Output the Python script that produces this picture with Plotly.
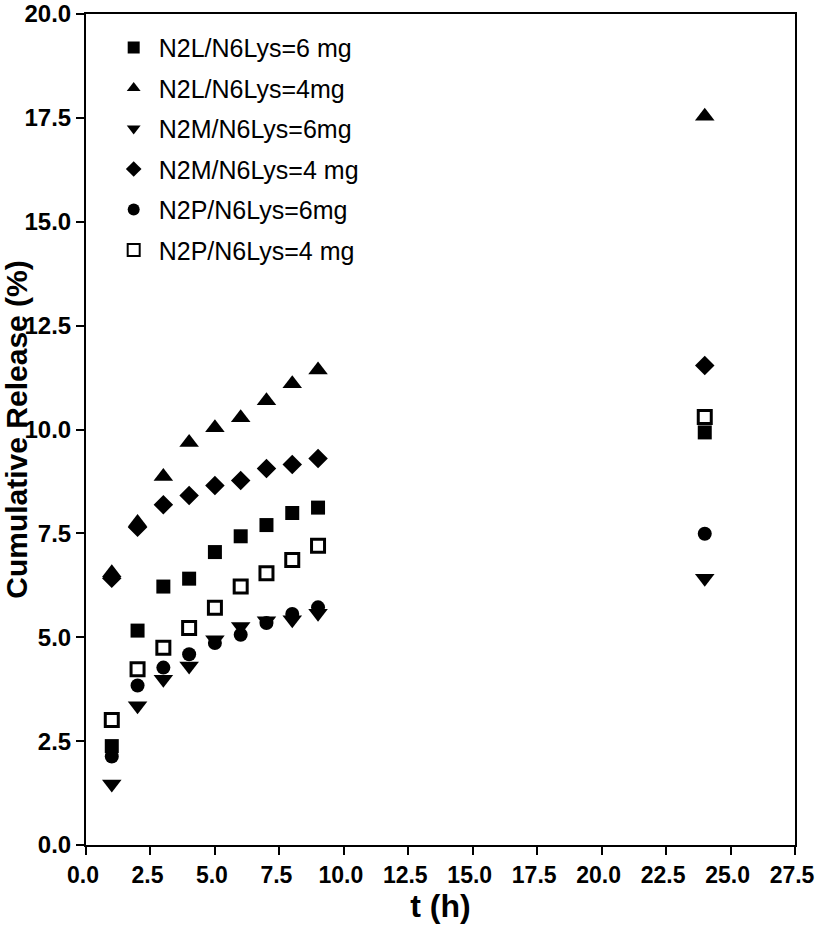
import plotly.graph_objects as go

t_early = [1, 2, 3, 4, 5, 6, 7, 8, 9, 24]

names = ["N2L/N6Lys=6 mg", "N2L/N6Lys=4mg", "N2M/N6Lys=6mg",
         "N2M/N6Lys=4 mg", "N2P/N6Lys=6mg", "N2P/N6Lys=4 mg"]

n2l_6 = [2.38, 5.16, 6.22, 6.41, 7.05, 7.43, 7.70, 7.99, 8.12, 9.93]
n2l_4 = [6.55, 7.76, 8.87, 9.69, 10.04, 10.28, 10.69, 11.10, 11.43, 17.54]
n2m_6 = [1.47, 3.35, 3.99, 4.31, 4.94, 5.26, 5.40, 5.42, 5.58, 6.42]
n2m_4 = [6.42, 7.65, 8.19, 8.41, 8.65, 8.77, 9.06, 9.16, 9.30, 11.54]
n2p_6 = [2.13, 3.84, 4.27, 4.59, 4.86, 5.06, 5.34, 5.56, 5.72, 7.49]
n2p_4 = [3.01, 4.23, 4.75, 5.22, 5.71, 6.22, 6.54, 6.86, 7.20, 10.30]

x_ticks = [0, 2.5, 5, 7.5, 10, 12.5, 15, 17.5, 20, 22.5, 25, 27.5]
y_ticks = [0, 2.5, 5, 7.5, 10, 12.5, 15, 17.5, 20]

series = [n2l_6, n2l_4, n2m_6, n2m_4, n2p_6, n2p_4]
symbols = ["square", "triangle-up", "triangle-down", "diamond", "circle", "square-open"]
sizes = [14, 17, 17, 15, 14, 13]

fig = go.Figure()
for i, (nm, ys, sym, sz) in enumerate(zip(names, series, symbols, sizes)):
    marker = dict(symbol=sym, size=sz, color="black")
    if sym == "square-open":
        marker["line"] = dict(width=3, color="black")
    fig.add_trace(go.Scatter(x=t_early, y=ys, mode="markers", name=nm,
                             marker=marker, legendgroup=f"g{i}"))

fam = "Liberation Sans, Arial"
narrow = "Liberation Sans Narrow, Arial Narrow, Liberation Sans, Arial"
tick_font = dict(family=narrow, size=24, color="black", weight="bold")
xtick_font = dict(family=narrow, size=23, color="black", weight="bold")

fig.update_layout(
    width=816, height=928,
    paper_bgcolor="white", plot_bgcolor="white",
    margin=dict(l=86, r=21, t=14, b=83),
    showlegend=True,
    legend=dict(x=0.032, y=0.987, xanchor="left", yanchor="top",
                bgcolor="rgba(0,0,0,0)", tracegroupgap=5, itemwidth=40,
                font=dict(family=fam, size=25, color="black"),
                itemsizing="constant"),
    xaxis=dict(range=[0, 27.5], tickvals=x_ticks,
               ticktext=[f"{v:.1f}" for v in x_ticks], automargin=False,
               ticklabeloverflow="allow", ticklabelshift=-3,
               showgrid=False, zeroline=False, showline=True, linecolor="black",
               linewidth=2, mirror=True, ticks="outside", ticklen=8, tickwidth=2,
               tickcolor="black", tickfont=xtick_font,
               title=dict(text="t (h)", font=dict(family=narrow, size=32,
                                                  color="black", weight="bold"),
                          standoff=6)),
    yaxis=dict(range=[0, 20], tickvals=y_ticks,
               ticktext=[f"{v:.1f}" for v in y_ticks], automargin=False,
               ticklabeloverflow="allow",
               showgrid=False, zeroline=False, showline=True, linecolor="black",
               linewidth=2, mirror=True, ticks="outside", ticklen=8, tickwidth=2,
               tickcolor="black", tickfont=tick_font,
               title=dict(text="Cumulative Release (%)",
                          font=dict(family=fam, size=30,
                                    color="black", weight="bold"),
                          standoff=4)),
)

fig.write_html("out.html", config={"displayModeBar": False},
               post_script="document.body.style.margin='0';")
